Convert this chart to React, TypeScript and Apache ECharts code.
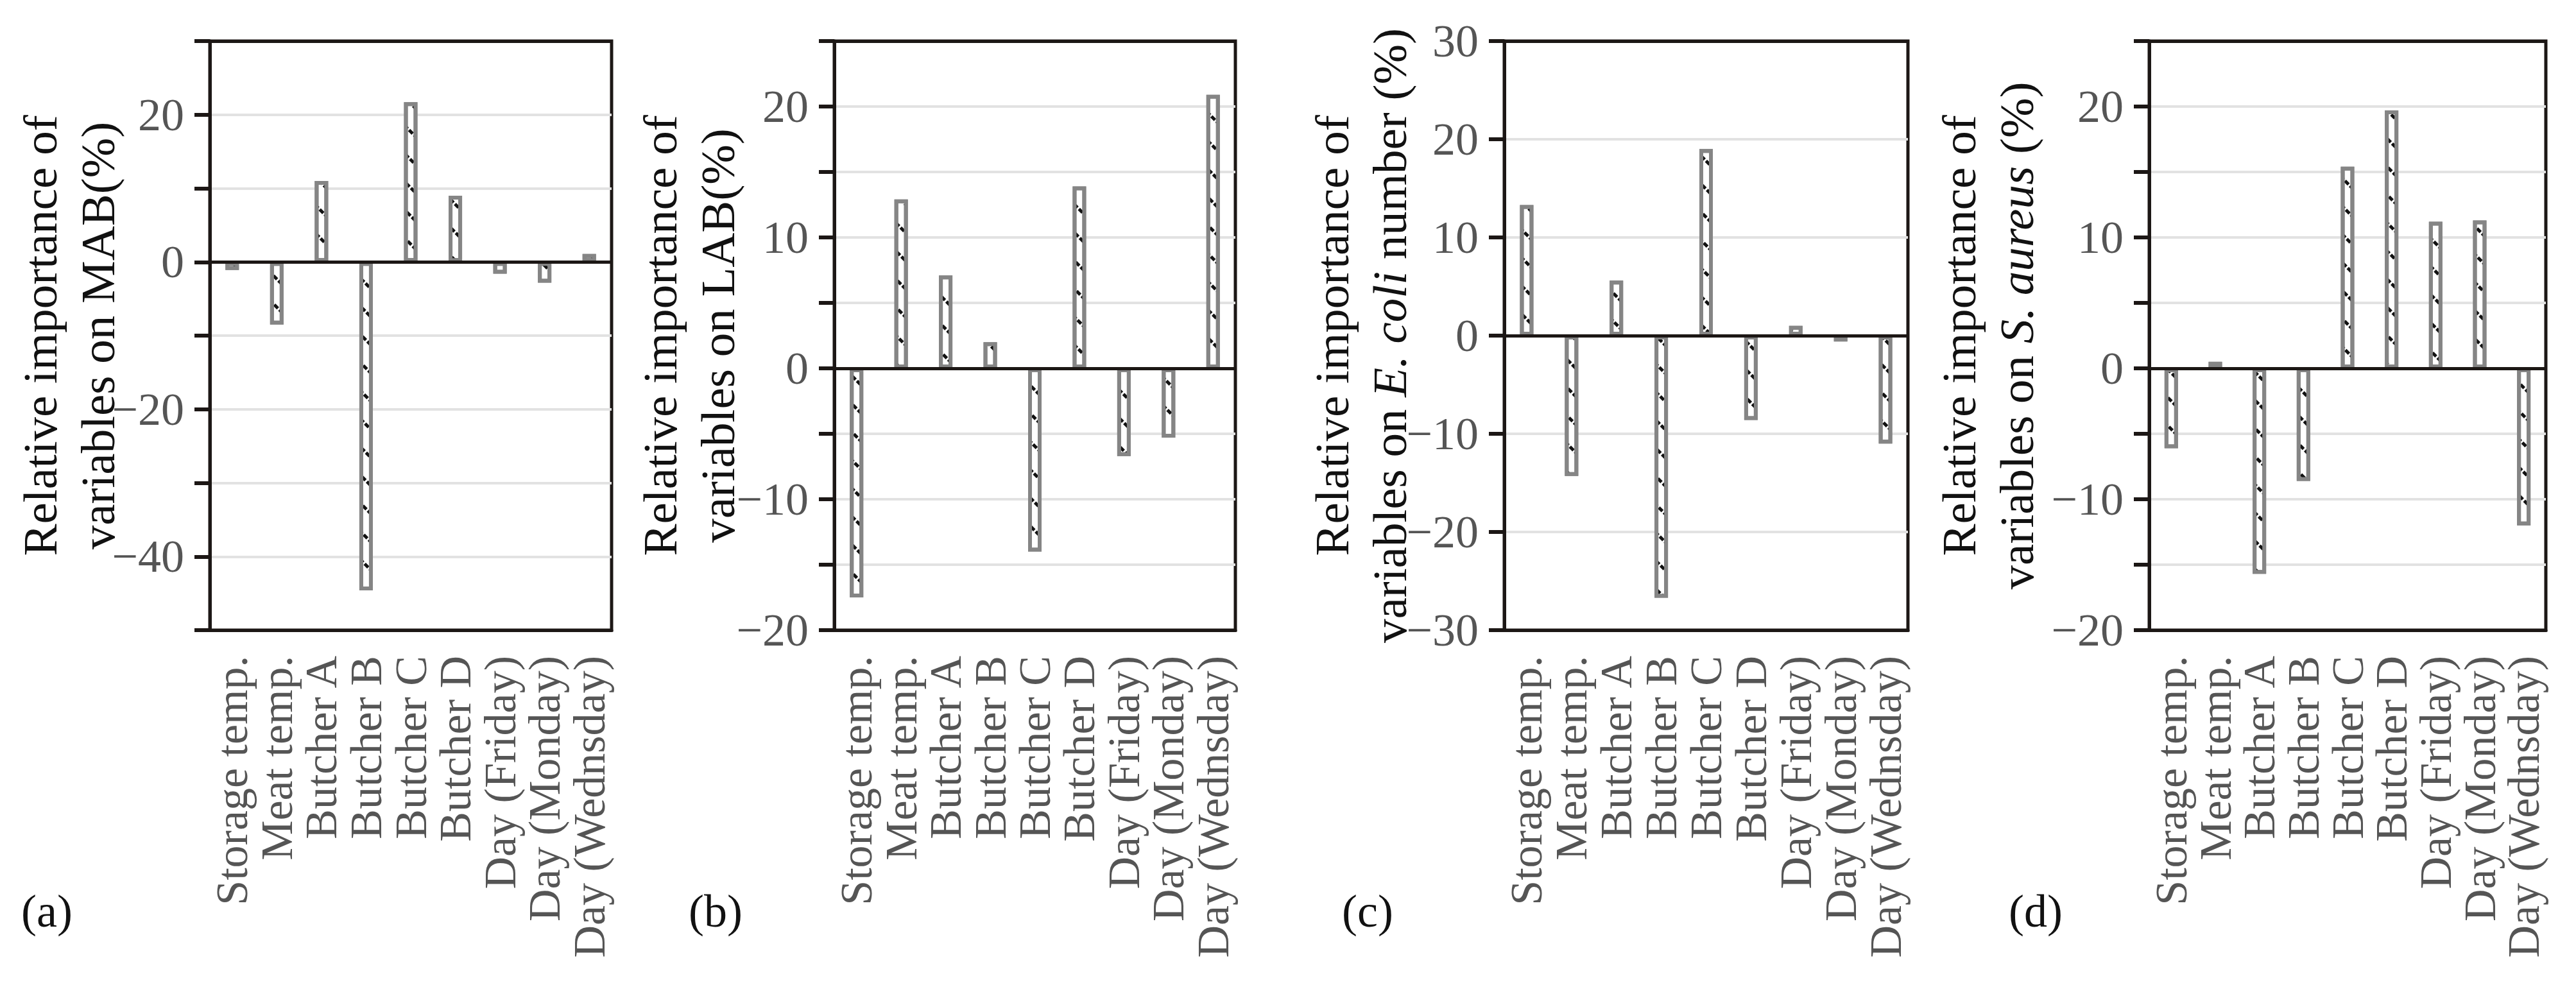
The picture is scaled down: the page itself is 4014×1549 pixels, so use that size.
import React, { useEffect, useRef } from "react";
import * as echarts from "echarts";

const categories = [
  "Storage temp.", "Meat temp.", "Butcher A", "Butcher B", "Butcher C",
  "Butcher D", "Day (Friday)", "Day (Monday)", "Day (Wednsday)",
];

const mabValues = [-1.1, -8.5, 11.0, -44.6, 21.7, 9.0, -1.6, -2.8, 1.1];
const labValues = [-17.5, 12.9, 7.1, 2.0, -14.0, 13.9, -6.7, -5.3, 20.9];
const ecoliValues = [13.3, -14.3, 5.6, -26.7, 19.0, -8.6, 1.0, -0.6, -11.0];
const aureusValues = [-6.1, 0.5, -15.7, -8.6, 15.4, 19.7, 11.2, 11.3, -12.0];

// [min, max, tick interval, label step]
const mabAxis = [-50, 30, 10, 20];
const labAxis = [-20, 25, 5, 10];
const ecoliAxis = [-30, 30, 10, 10];
const aureusAxis = [-20, 25, 5, 10];

const panelTags = ["(a)", "(b)", "(c)", "(d)"];
const titles = [
  "Relative importance of\nvariables on MAB(%)",
  "Relative importance of\nvariables on LAB(%)",
  "Relative importance of\nvariables on {i|E. coli} number (%)",
  "Relative importance of\nvariables on {i|S. aureus} (%)",
];

const FONT = "'Liberation Serif', 'Times New Roman', serif";
const W = 4014;
const H = 1549;
const INK = "#1c1715";

// plot boxes in page pixels: left, right
const boxes = [
  [327, 953],
  [1300, 1925],
  [2344, 2973],
  [3349, 3967],
];
const TOP = 64;
const BOTTOM = 982;
const titleX = [107, 1073, 2120, 3097];
const tagX = [73, 1115, 2131, 3172];

const fmt = (step: number) => (v: number) => {
  if (Math.abs(v % step) > 1e-6) return "";
  if (v < 0) return "\u2212" + Math.abs(v);
  return String(v);
};

const App = () => {
  const ref = useRef<HTMLDivElement>(null);

  useEffect(() => {
    document.body.style.margin = "0";
    if (!ref.current) return;
    const chart = echarts.init(ref.current, null, { renderer: "svg" });

    const data = [mabValues, labValues, ecoliValues, aureusValues];
    const axes = [mabAxis, labAxis, ecoliAxis, aureusAxis];

    const option: any = {
      animation: false,
      backgroundColor: "#fff",
      grid: boxes.map(([l, r]) => ({
        left: l,
        width: r - l,
        top: TOP,
        height: BOTTOM - TOP,
        show: true,
        borderColor: INK,
        borderWidth: 5,
        backgroundColor: "transparent",
      })),
      xAxis: boxes.map((_, i) => ({
        type: "category",
        gridIndex: i,
        data: categories,
        position: "bottom",
        axisLine: { onZero: false, lineStyle: { color: INK, width: 5 } },
        axisTick: { alignWithLabel: true, length: 24, lineStyle: { color: INK, width: 6 } },
        axisLabel: {
          rotate: 90,
          interval: 0,
          margin: 40,
          fontFamily: FONT,
          fontSize: 70,
          color: "#555",
        },
        splitLine: { show: false },
      })),
      yAxis: axes.map(([min, max, interval, step], i) => ({
        type: "value",
        gridIndex: i,
        min,
        max,
        interval,
        axisLine: { show: true, lineStyle: { color: INK, width: 5 } },
        axisTick: { show: true, length: 24, lineStyle: { color: INK, width: 6 } },
        axisLabel: {
          margin: 40,
          fontFamily: FONT,
          fontSize: 72,
          color: "#555",
          formatter: fmt(step),
        },
        splitLine: { show: true, lineStyle: { color: "#e2e2e2", width: 4 } },
      })),
      series: data.map((vals, i) => ({
        type: "bar",
        xAxisIndex: i,
        yAxisIndex: i,
        data: vals,
        barWidth: 21,
        itemStyle: {
          color: "#fff",
          borderColor: "#858585",
          borderWidth: 6,
          decal: {
            symbol: "rect",
            symbolSize: 1,
            symbolKeepAspect: false,
            color: "#111",
            dashArrayX: [[8, 3]],
            dashArrayY: [5, 26],
            rotation: Math.PI / 4,
          },
        },
        markLine: {
          silent: true,
          symbol: "none",
          label: { show: false },
          lineStyle: { color: INK, width: 5, type: "solid" },
          data: [{ yAxis: 0 }, { yAxis: axes[i][1] }],
        },
      })),
      graphic: [
        ...titles.map((t, i) => ({
          type: "text",
          x: titleX[i],
          y: (TOP + BOTTOM) / 2,
          rotation: Math.PI / 2,
          style: {
            text: t,
            font: `75px ${FONT}`,
            fill: "#111",
            textAlign: "center",
            textVerticalAlign: "middle",
            lineHeight: 90,
            rich: {
              i: { fontStyle: "italic", fontSize: 75, fontFamily: FONT, lineHeight: 90, fill: "#111" },
            },
          },
        })),
        ...panelTags.map((t, i) => ({
          type: "text",
          x: tagX[i],
          y: 1420,
          style: {
            text: t,
            font: `72px ${FONT}`,
            fill: "#111",
            textAlign: "center",
            textVerticalAlign: "middle",
          },
        })),
      ],
    };

    chart.setOption(option);
    return () => chart.dispose();
  }, []);

  return <div ref={ref} style={{ width: W, height: H }} />;
};

export default App;
